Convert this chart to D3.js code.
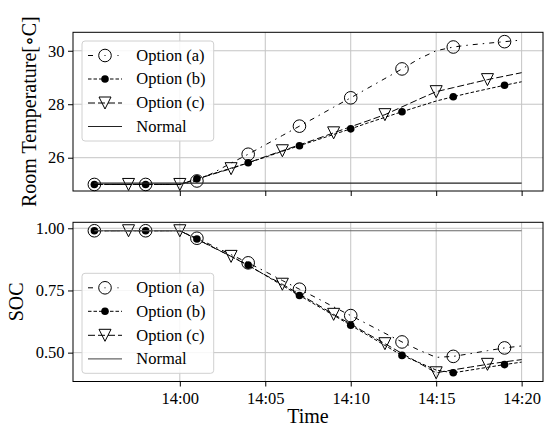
<!DOCTYPE html>
<html>
<head>
<meta charset="utf-8">
<script src="https://cdn.jsdelivr.net/npm/d3@7"></script>
<style>
body { margin: 0; background: #fff; }
svg, svg text { font-family: "Liberation Serif", "DejaVu Serif", "Times New Roman", Times, serif; }
</style>
</head>
<body>
<svg id="chart" width="547" height="433" font-family="Liberation Serif, DejaVu Serif, serif"></svg>
<script>
// Time stamps (one per minute)
const times = ["13:55","13:56","13:57","13:58","13:59","14:00","14:01","14:02","14:03",
  "14:04","14:05","14:06","14:07","14:08","14:09","14:10","14:11","14:12","14:13",
  "14:14","14:15","14:16","14:17","14:18","14:19","14:20"];

// Room temperature
const tempA = [25.0,25.0,25.0,25.0,25.0,25.0,25.13,25.45,25.8,26.13,26.48,26.83,27.18,
  27.53,27.89,28.24,28.6,28.96,29.32,29.7,30.0,30.14,30.22,30.28,30.34,30.4];
const tempB = [25.0,25.0,25.0,25.0,25.0,25.0,25.21,25.41,25.61,25.81,26.02,26.24,26.45,
  26.66,26.87,27.08,27.3,27.51,27.72,27.92,28.12,28.28,28.43,28.57,28.71,28.84];
const tempC = [25.0,25.0,25.0,25.0,25.0,25.0,25.2,25.4,25.59,25.81,26.04,26.26,26.48,
  26.7,26.93,27.16,27.38,27.61,27.9,28.19,28.47,28.62,28.77,28.92,29.05,29.18];
const tempNormal = 25.05;

// State of charge
const socA = [0.99,0.99,0.99,0.99,0.99,0.99,0.96,0.927,0.894,0.861,0.826,0.79,0.755,
  0.72,0.684,0.649,0.614,0.578,0.543,0.51,0.481,0.485,0.496,0.508,0.519,0.527];
const socB = [0.99,0.99,0.99,0.99,0.99,0.99,0.957,0.922,0.887,0.852,0.811,0.77,0.73,
  0.69,0.65,0.61,0.57,0.529,0.489,0.46,0.43,0.419,0.43,0.441,0.452,0.462];
const socC = [0.99,0.99,0.99,0.99,0.99,0.99,0.956,0.921,0.887,0.85,0.812,0.775,0.735,
  0.695,0.654,0.615,0.575,0.536,0.497,0.458,0.419,0.431,0.442,0.453,0.463,0.472];
const socNormal = 0.99;

// Tick labels
const xTicks = ["14:00","14:05","14:10","14:15","14:20"];
const tempTicks = [26, 28, 30];
const socTicks = [0.50, 0.75, 1.00];
const seriesNames = ["Option (a)", "Option (b)", "Option (c)", "Normal"];

const parseTime = d3.timeParse("%H:%M");
const dates = times.map(parseTime);

const svg = d3.select("#chart");
const left = 73, right = 543;
const FONT = "Liberation Serif, DejaVu Serif, serif";

// x scale with 5% margins like matplotlib
const [t0, t1] = d3.extent(dates);
const pad = (t1 - t0) * 0.05;
const x = d3.scaleTime()
  .domain([new Date(+t0 - pad), new Date(+t1 + pad)])
  .range([left, right]);

const styles = [
  { dash: "5,5,1.5,5", legendDash: "5,11.5,1,12,1,10", marker: "circle", every: 0 },
  { dash: "3.5,2", legendDash: "3.5,2", marker: "dot", every: 0 },
  { dash: "7,3", legendDash: "7,3", marker: "tri", every: 2 }
];

function drawMarker(g, type, cx, cy) {
  if (type === "circle") {
    g.append("circle").attr("cx", cx).attr("cy", cy).attr("r", 6.3)
      .attr("fill", "none").attr("stroke", "#000").attr("stroke-width", 1);
  } else if (type === "dot") {
    g.append("circle").attr("cx", cx).attr("cy", cy).attr("r", 3.8)
      .attr("fill", "#000");
  } else {
    g.append("path").attr("transform", `translate(${cx},${cy})`)
      .attr("d", "M-6,-6L6,-6L0,6Z")
      .attr("fill", "none").attr("stroke", "#000").attr("stroke-width", 1);
  }
}

function panel(cfg) {
  const y = d3.scaleLinear().domain(cfg.domain).range([cfg.bottom, cfg.top]);
  const g = svg.append("g").attr("font-family", FONT);

  // grid
  g.selectAll(".vgrid").data(xTicks).join("line")
    .attr("x1", d => x(parseTime(d))).attr("x2", d => x(parseTime(d)))
    .attr("y1", cfg.top).attr("y2", cfg.bottom)
    .attr("stroke", "#c4c4c4").attr("stroke-width", 1);
  g.selectAll(".hgrid").data(cfg.ticks).join("line")
    .attr("x1", left).attr("x2", right)
    .attr("y1", d => y(d)).attr("y2", d => y(d))
    .attr("stroke", "#c4c4c4").attr("stroke-width", 1);

  // series
  const line = d3.line().x((d, i) => x(dates[i])).y(d => y(d));
  cfg.series.forEach((vals, k) => {
    const s = styles[k];
    const sg = g.append("g");
    sg.append("path").datum(vals)
      .attr("d", line)
      .attr("fill", "none").attr("stroke", "#000").attr("stroke-width", 1)
      .attr("stroke-dasharray", s.dash);
    vals.forEach((v, i) => {
      if (i >= s.every && (i - s.every) % 3 === 0) drawMarker(sg, s.marker, x(dates[i]), y(v));
    });
  });

  // normal
  g.append("line")
    .attr("x1", x(t0)).attr("x2", x(t1))
    .attr("y1", y(cfg.normal)).attr("y2", y(cfg.normal))
    .attr("stroke", cfg.normalColor).attr("stroke-width", 1.2);

  // frame
  g.append("rect").attr("x", left).attr("y", cfg.top)
    .attr("width", right - left).attr("height", cfg.bottom - cfg.top)
    .attr("fill", "none").attr("stroke", "#000").attr("stroke-width", 1);

  // axes
  const ya = g.append("g").attr("transform", `translate(${left},0)`)
    .call(d3.axisLeft(y).tickValues(cfg.ticks).tickSize(5).tickPadding(3.5).tickFormat(cfg.fmt));
  ya.select(".domain").remove();
  ya.attr("font-family", FONT).attr("font-size", 16.5);

  const xa = g.append("g").attr("transform", `translate(0,${cfg.bottom})`)
    .call(d3.axisBottom(x).tickValues(xTicks.map(parseTime)).tickSize(5).tickPadding(6)
      .tickFormat(cfg.showX ? d3.timeFormat("%H:%M") : ""));
  xa.select(".domain").remove();
  xa.attr("font-family", FONT).attr("font-size", 16.5);

  // y label
  g.append("text")
    .attr("transform", `translate(${cfg.labelX},${(cfg.top + cfg.bottom) / 2}) rotate(-90)`)
    .attr("text-anchor", "middle").attr("font-size", 20)
    .text(cfg.label);

  // legend
  const lg = g.append("g").attr("transform", `translate(82,${cfg.legendTop})`);
  lg.append("rect").attr("width", 131.7).attr("height", 100).attr("rx", 3)
    .attr("fill", "#fff").attr("fill-opacity", 0.85)
    .attr("stroke", "#d0d0d0").attr("stroke-width", 1);
  const rows = [14.5, 38, 62, 85.5];
  seriesNames.forEach((name, k) => {
    const ry = rows[k];
    const hl = lg.append("line").attr("x1", 6).attr("x2", 40).attr("y1", ry).attr("y2", ry)
      .attr("stroke-width", k === 3 ? 1.2 : 1);
    if (k < 3) {
      hl.attr("stroke", "#000").attr("stroke-dasharray", styles[k].legendDash);
      drawMarker(lg, styles[k].marker, 23, ry);
    } else {
      hl.attr("stroke", cfg.normalColor);
    }
    lg.append("text").attr("x", 54.3).attr("y", ry).attr("dy", "0.33em")
      .attr("font-size", 16.5).text(name);
  });
}

panel({
  top: 32.3, bottom: 191, domain: [24.755, 30.69], ticks: tempTicks, fmt: d3.format("d"),
  series: [tempA, tempB, tempC], normal: tempNormal, normalColor: "#222",
  showX: false, label: "Room Temperature[\u2218C]", labelX: 36, legendTop: 41
});

panel({
  top: 222.3, bottom: 381.5, domain: [0.384, 1.024], ticks: socTicks, fmt: d3.format(".2f"),
  series: [socA, socB, socC], normal: socNormal, normalColor: "#666",
  showX: true, label: "SOC", labelX: 23, legendTop: 273.3
});

svg.append("text")
  .attr("x", (left + right) / 2).attr("y", 423)
  .attr("text-anchor", "middle").attr("font-size", 20).attr("font-family", FONT)
  .text("Time");
</script>
</body>
</html>
